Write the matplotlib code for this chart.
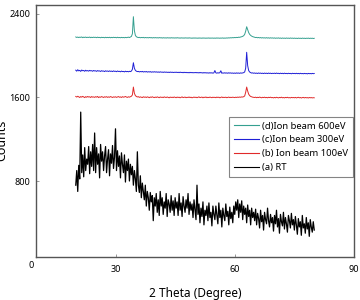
import numpy as np
import matplotlib
matplotlib.use("Agg")
import matplotlib.pyplot as plt

plt.rcParams['font.family'] = ['Noto Sans', 'DejaVu Sans']

# 2-theta grid: 20..80 deg, step 0.25 deg
theta_start, theta_end, theta_step = 20.0, 80.0, 0.25

counts_rt = [
    760, 900, 700, 950, 820, 1460, 880, 1050, 840, 1120, 900, 1010, 960, 1130, 870, 1080, 940, 1150, 900, 1260,
    880, 1120, 960, 1060, 830, 1150, 990, 1080, 900, 1040, 1130, 880, 1010, 1100, 850, 1060, 970, 1140, 920, 1030,
    1300, 900, 1090, 940, 1040, 830, 1070, 960, 880, 1050, 790, 990, 900, 1010, 800, 960, 860, 940, 760, 900,
    820, 700, 1080, 760, 690, 850, 640, 780, 700, 620, 760, 560, 700, 640, 520, 690, 600, 660, 420, 640,
    560, 680, 500, 620, 470, 700, 560, 640, 480, 600, 540, 680, 460, 620, 580, 500, 660, 520, 610, 470,
    640, 540, 600, 470, 680, 520, 590, 460, 650, 560, 500, 620, 540, 680, 480, 600, 520, 580, 450, 620,
    520, 430, 760, 480, 580, 400, 540, 460, 600, 380, 520, 470, 560, 420, 590, 450, 500, 370, 560, 480,
    430, 560, 470, 390, 590, 450, 520, 360, 540, 470, 420, 580, 460, 510, 380, 550, 440, 500, 400, 560,
    480, 600, 520, 620, 450, 580, 500, 610, 430, 560, 480, 540, 400, 570, 460, 520, 380, 540, 450, 500,
    420, 530, 380, 490, 440, 350, 520, 410, 470, 330, 500, 430, 390, 540, 420, 360, 480, 400, 450, 320,
    470, 390, 520, 360, 440, 300, 480, 410, 370, 500, 340, 450, 390, 310, 470, 420, 350, 490, 380, 430,
    330, 460, 380, 290, 440, 360, 410, 280, 470, 350, 390, 300, 450, 340, 400, 270, 430, 360, 310, 410,
    330,
]

counts_100ev = [
    1610, 1604, 1612, 1606, 1600, 1609, 1603, 1611, 1605, 1599, 1608, 1602, 1610, 1604, 1607, 1600, 1609, 1603, 1606, 1601,
    1608, 1603, 1610, 1599, 1606, 1602, 1609, 1604, 1600, 1607, 1603, 1608, 1601, 1606, 1602, 1609, 1604, 1600, 1606, 1603,
    1607, 1601, 1605, 1609, 1602, 1606, 1600, 1608, 1603, 1605, 1610, 1604, 1601, 1607, 1603, 1608, 1612, 1625, 1700, 1640,
    1618, 1610, 1605, 1608, 1601, 1606, 1603, 1599, 1607, 1602, 1605, 1600, 1606, 1603, 1598, 1605, 1601, 1607, 1602, 1599,
    1604, 1600, 1606, 1602, 1598, 1605, 1601, 1603, 1599, 1606, 1602, 1600, 1605, 1601, 1597, 1604, 1600, 1603, 1599, 1605,
    1601, 1598, 1604, 1600, 1603, 1597, 1602, 1606, 1599, 1601, 1604, 1598, 1602, 1600, 1605, 1599, 1603, 1597, 1601, 1604,
    1600, 1603, 1598, 1602, 1606, 1599, 1601, 1604, 1597, 1603, 1600, 1605, 1598, 1602, 1599, 1604, 1601, 1598, 1603, 1600,
    1602, 1598, 1604, 1600, 1603, 1597, 1601, 1605, 1599, 1602, 1600, 1603, 1598, 1601, 1604, 1599, 1602, 1600, 1603, 1601,
    1599, 1603, 1600, 1604, 1601, 1605, 1602, 1606, 1604, 1608, 1615, 1650, 1700, 1662, 1632, 1618, 1610, 1606, 1603, 1601,
    1600, 1603, 1598, 1602, 1599, 1604, 1600, 1597, 1602, 1599, 1603, 1598, 1601, 1597, 1602, 1599, 1603, 1598, 1600, 1596,
    1601, 1597, 1602, 1599, 1596, 1601, 1598, 1603, 1597, 1600, 1596, 1601, 1598, 1602, 1597, 1599, 1596, 1601, 1598, 1600,
    1597, 1601, 1596, 1599, 1602, 1597, 1600, 1595, 1599, 1601, 1596, 1600, 1597, 1599, 1595, 1600, 1597, 1599, 1596, 1598,
    1597,
]

counts_300ev = [
    1862, 1852, 1866, 1855, 1860, 1850, 1863, 1856, 1859, 1851, 1861, 1854, 1858, 1852, 1860, 1855, 1857, 1851, 1859, 1854,
    1856, 1850, 1858, 1853, 1855, 1849, 1857, 1852, 1854, 1848, 1856, 1851, 1854, 1849, 1855, 1850, 1853, 1848, 1855, 1850,
    1852, 1847, 1854, 1849, 1851, 1846, 1853, 1848, 1850, 1845, 1852, 1847, 1850, 1846, 1851, 1848, 1853, 1870, 1933, 1880,
    1860, 1852, 1848, 1850, 1845, 1849, 1846, 1850, 1844, 1848, 1845, 1849, 1843, 1847, 1844, 1848, 1842, 1846, 1843, 1847,
    1843, 1846, 1842, 1845, 1841, 1846, 1842, 1844, 1840, 1845, 1841, 1844, 1840, 1843, 1839, 1844, 1840, 1843, 1839, 1842,
    1840, 1843, 1839, 1842, 1838, 1843, 1839, 1841, 1837, 1842, 1838, 1841, 1837, 1840, 1836, 1841, 1837, 1840, 1836, 1839,
    1837, 1840, 1836, 1839, 1835, 1840, 1836, 1838, 1834, 1839, 1835, 1838, 1834, 1837, 1833, 1838, 1834, 1837, 1833, 1836,
    1858, 1836, 1833, 1837, 1834, 1838, 1856, 1832, 1836, 1833, 1837, 1833, 1836, 1832, 1837, 1833, 1836, 1832, 1835, 1831,
    1835, 1831, 1836, 1832, 1835, 1831, 1836, 1833, 1835, 1838, 1845, 1880, 2033, 1905, 1858, 1844, 1838, 1834, 1836, 1832,
    1835, 1831, 1834, 1830, 1835, 1831, 1834, 1830, 1833, 1829, 1834, 1830, 1833, 1829, 1834, 1830, 1833, 1829, 1832, 1830,
    1833, 1829, 1834, 1830, 1832, 1828, 1833, 1829, 1832, 1828, 1833, 1829, 1831, 1828, 1832, 1829, 1831, 1827, 1832, 1829,
    1831, 1828, 1832, 1828, 1831, 1827, 1832, 1828, 1830, 1827, 1831, 1828, 1830, 1826, 1831, 1828, 1830, 1827, 1831, 1828,
    1830,
]

counts_600ev = [
    2180, 2175, 2179, 2174, 2178, 2176, 2180, 2173, 2178, 2175, 2179, 2174, 2177, 2175, 2179, 2173, 2177, 2174, 2178, 2175,
    2177, 2173, 2178, 2174, 2176, 2172, 2177, 2174, 2176, 2172, 2177, 2173, 2176, 2173, 2177, 2172, 2176, 2173, 2177, 2174,
    2176, 2172, 2177, 2173, 2175, 2172, 2176, 2173, 2175, 2172, 2176, 2173, 2175, 2178, 2174, 2180, 2185, 2210, 2374, 2240,
    2195, 2182, 2177, 2174, 2176, 2172, 2175, 2173, 2176, 2171, 2175, 2172, 2174, 2171, 2175, 2172, 2174, 2170, 2174, 2171,
    2174, 2171, 2173, 2170, 2174, 2171, 2173, 2169, 2173, 2170, 2172, 2169, 2173, 2170, 2172, 2169, 2173, 2170, 2172, 2169,
    2172, 2169, 2173, 2170, 2171, 2168, 2172, 2169, 2171, 2168, 2172, 2169, 2171, 2168, 2172, 2169, 2170, 2167, 2171, 2168,
    2171, 2168, 2170, 2167, 2171, 2168, 2170, 2167, 2171, 2168, 2170, 2167, 2170, 2168, 2171, 2167, 2170, 2168, 2170, 2167,
    2170, 2167, 2171, 2168, 2170, 2167, 2170, 2168, 2171, 2167, 2170, 2168, 2171, 2169, 2172, 2170, 2173, 2171, 2174, 2172,
    2175, 2173, 2176, 2174, 2178, 2176, 2180, 2182, 2186, 2192, 2205, 2235, 2278, 2250, 2222, 2205, 2195, 2188, 2183, 2180,
    2177, 2174, 2176, 2172, 2175, 2171, 2174, 2170, 2173, 2170, 2172, 2169, 2173, 2169, 2172, 2168, 2172, 2169, 2171, 2168,
    2171, 2167, 2170, 2168, 2171, 2167, 2170, 2166, 2170, 2167, 2169, 2166, 2170, 2167, 2169, 2166, 2170, 2167, 2169, 2166,
    2169, 2166, 2168, 2165, 2169, 2166, 2168, 2165, 2169, 2166, 2168, 2165, 2168, 2166, 2169, 2165, 2168, 2166, 2168, 2165,
    2167,
]

labels = ["(d)Ion beam 600eV", "(c)Ion beam 300eV", "(b) Ion beam 100eV", "(a) RT"]
colors = ["#35a090", "#1f1fd6", "#e02a2a", "#000000"]
x_ticks = [30, 60, 90]
y_ticks = [800, 1600, 2400]

theta = np.arange(len(counts_rt)) * theta_step + theta_start

fig = plt.figure(figsize=(3.6, 3.0), dpi=100)
ax = fig.add_axes([36/360, 1-257/300, 318/360, 252/300])

series = [counts_600ev, counts_300ev, counts_100ev, counts_rt]
lws = [0.7, 0.7, 0.7, 0.9]
handles = []
for s, c, lab, lw in zip(series, colors, labels, lws):
    h, = ax.plot(theta, s, color=c, lw=lw, label=lab)
    handles.append(h)

ax.set_xlim(10, 90)
ax.set_ylim(72, 2486)
ax.set_xticks(x_ticks)
ax.set_yticks(y_ticks)
ax.tick_params(direction='in', length=2, width=0.6, color='#888888', labelsize=6.5, pad=4)
ax.tick_params(axis='x', pad=6)
for sp in ax.spines.values():
    sp.set_color('#555555')
    sp.set_linewidth(1.0)

fig.text(31/360, 1-266/300, "0", fontsize=6.5, ha='center', va='center')

ax.set_xlabel("2 Theta (Degree)", fontsize=8.5)
ax.xaxis.set_label_coords(0.5, (257-287)/252)
ax.set_ylabel("Counts", fontsize=9)
ax.yaxis.set_label_coords((8-36)/318, (257-140)/252)

leg = ax.legend(handles=handles, loc='upper right', bbox_to_anchor=((353-36)/318, (257-117)/252),
                fontsize=6.8, frameon=True, fancybox=False, handlelength=2.6, labelspacing=0.5,
                borderpad=0.5, handletextpad=0.4, borderaxespad=0)
leg.get_frame().set_edgecolor('#666666')
leg.get_frame().set_linewidth(0.8)
for line in leg.get_lines():
    line.set_linewidth(0.8)

fig.savefig("out.png", dpi=100)
